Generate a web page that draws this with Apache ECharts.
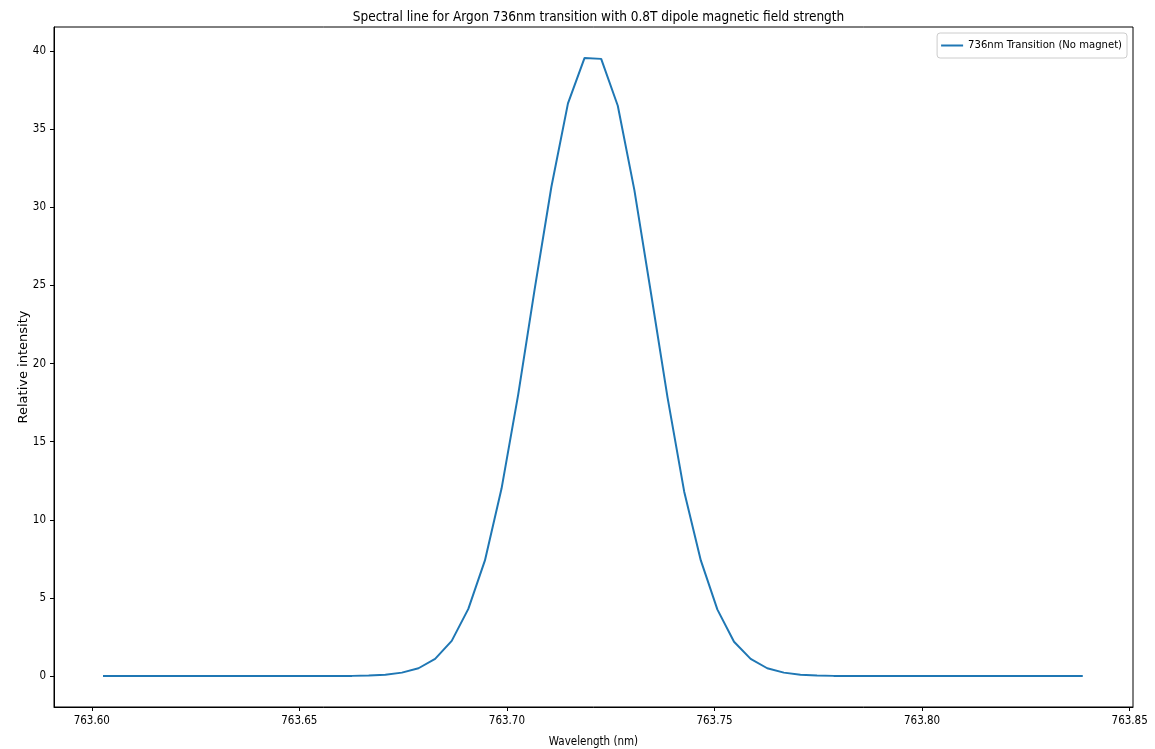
<!DOCTYPE html>
<html>
<head>
<meta charset="utf-8">
<script src="https://cdn.jsdelivr.net/npm/echarts@6/dist/echarts.min.js"></script>
<style>
html,body{margin:0;padding:0;background:#fff;}
#chart{width:1155px;height:749px;}
</style>
</head>
<body>
<div id="chart"></div>
<script>
const titleText = 'Spectral line for Argon 736nm transition with 0.8T dipole magnetic field strength';
const seriesName = '736nm Transition (No magnet)';
const xTickValues = [763.60, 763.65, 763.70, 763.75, 763.80, 763.85];
const yTickValues = [0, 5, 10, 15, 20, 25, 30, 35, 40];
const wavelengths = [
  763.6027, 763.6067, 763.6107, 763.6147, 763.6187, 763.6227, 763.6267, 763.6307, 763.6347, 763.6387,
  763.6427, 763.6467, 763.6507, 763.6547, 763.6587, 763.6627, 763.6667, 763.6707, 763.6747, 763.6787,
  763.6827, 763.6867, 763.6907, 763.6947, 763.6987, 763.7027, 763.7067, 763.7107, 763.7147, 763.7187,
  763.7227, 763.7267, 763.7307, 763.7347, 763.7387, 763.7427, 763.7467, 763.7507, 763.7547, 763.7587,
  763.7627, 763.7667, 763.7707, 763.7747, 763.7787, 763.7827, 763.7867, 763.7907, 763.7947, 763.7987,
  763.8027, 763.8067, 763.8107, 763.8147, 763.8187, 763.8227, 763.8267, 763.8307, 763.8347, 763.8387
];
const intensity = [
  0, 0, 0, 0, 0, 0, 0, 0, 0, 0,
  0, 0, 0, 0.001, 0.004, 0.012, 0.035, 0.09, 0.22, 0.5,
  1.1, 2.25, 4.3, 7.4, 12.0, 18.0, 24.8, 31.3, 36.65, 39.56,
  39.5, 36.5, 31.1, 24.5, 17.8, 11.8, 7.4, 4.25, 2.2, 1.1,
  0.5, 0.22, 0.09, 0.035, 0.012, 0.004, 0.001, 0, 0, 0,
  0, 0, 0, 0, 0, 0, 0, 0, 0, 0
];

const points = wavelengths.map((w, i) => [w, intensity[i]]);
const cond = '"DejaVu Sans Condensed", "DejaVu Sans", sans-serif';

const chart = echarts.init(document.getElementById('chart'), null, {renderer: 'canvas'});
chart.setOption({
  animation: false,
  backgroundColor: '#fff',
  title: {
    text: titleText,
    left: 593.5,
    textAlign: 'center',
    top: 5,
    textStyle: {fontFamily: cond, fontSize: 13.5, fontWeight: 'normal', color: '#000'}
  },
  legend: {
    right: 28,
    top: 33,
    data: [seriesName],
    icon: 'rect',
    itemWidth: 22,
    itemHeight: 2,
    itemGap: 8,
    borderColor: '#ccc',
    borderWidth: 1,
    borderRadius: 3,
    padding: [7, 5, 7, 4],
    textStyle: {fontFamily: cond, fontSize: 11.2, color: '#000'}
  },
  grid: {
    left: 54, right: 22, top: 27, bottom: 42,
    containLabel: false,
    outerBoundsMode: 'none',
    show: true, borderColor: '#000', borderWidth: 1, backgroundColor: 'transparent'
  },
  xAxis: {
    type: 'value',
    min: 763.5909,
    max: 763.8508,
    name: 'Wavelength (nm)',
    nameLocation: 'middle',
    nameGap: 29,
    nameMoveOverlap: false,
    nameTextStyle: {fontFamily: cond, fontSize: 11.5, color: '#000'},
    axisLine: {show: true, onZero: false, lineStyle: {color: '#000', width: 1}},
    axisTick: {show: true, inside: false, length: 4, customValues: xTickValues, lineStyle: {color: '#000'}},
    axisLabel: {customValues: xTickValues, fontFamily: cond, fontSize: 11.5, color: '#000', margin: 8,
      formatter: v => v.toFixed(2)},
    splitLine: {show: false}
  },
  yAxis: {
    type: 'value',
    min: -1.98,
    max: 41.54,
    name: 'Relative intensity',
    nameLocation: 'middle',
    nameRotate: 90,
    nameGap: 24,
    nameMoveOverlap: false,
    nameTextStyle: {fontFamily: '"DejaVu Sans", sans-serif', fontSize: 13, color: '#000'},
    axisLine: {show: true, onZero: false, lineStyle: {color: '#000', width: 1}},
    axisTick: {show: true, inside: false, length: 4, customValues: yTickValues, lineStyle: {color: '#000'}},
    axisLabel: {customValues: yTickValues, fontFamily: cond, fontSize: 11.5, color: '#000', margin: 8,
      formatter: v => String(Math.round(v))},
    splitLine: {show: false}
  },
  series: [{
    name: seriesName,
    type: 'line',
    data: points,
    showSymbol: false,
    symbol: 'none',
    lineStyle: {color: '#1f77b4', width: 2},
    itemStyle: {color: '#1f77b4'}
  }]
});
</script>
</body>
</html>
